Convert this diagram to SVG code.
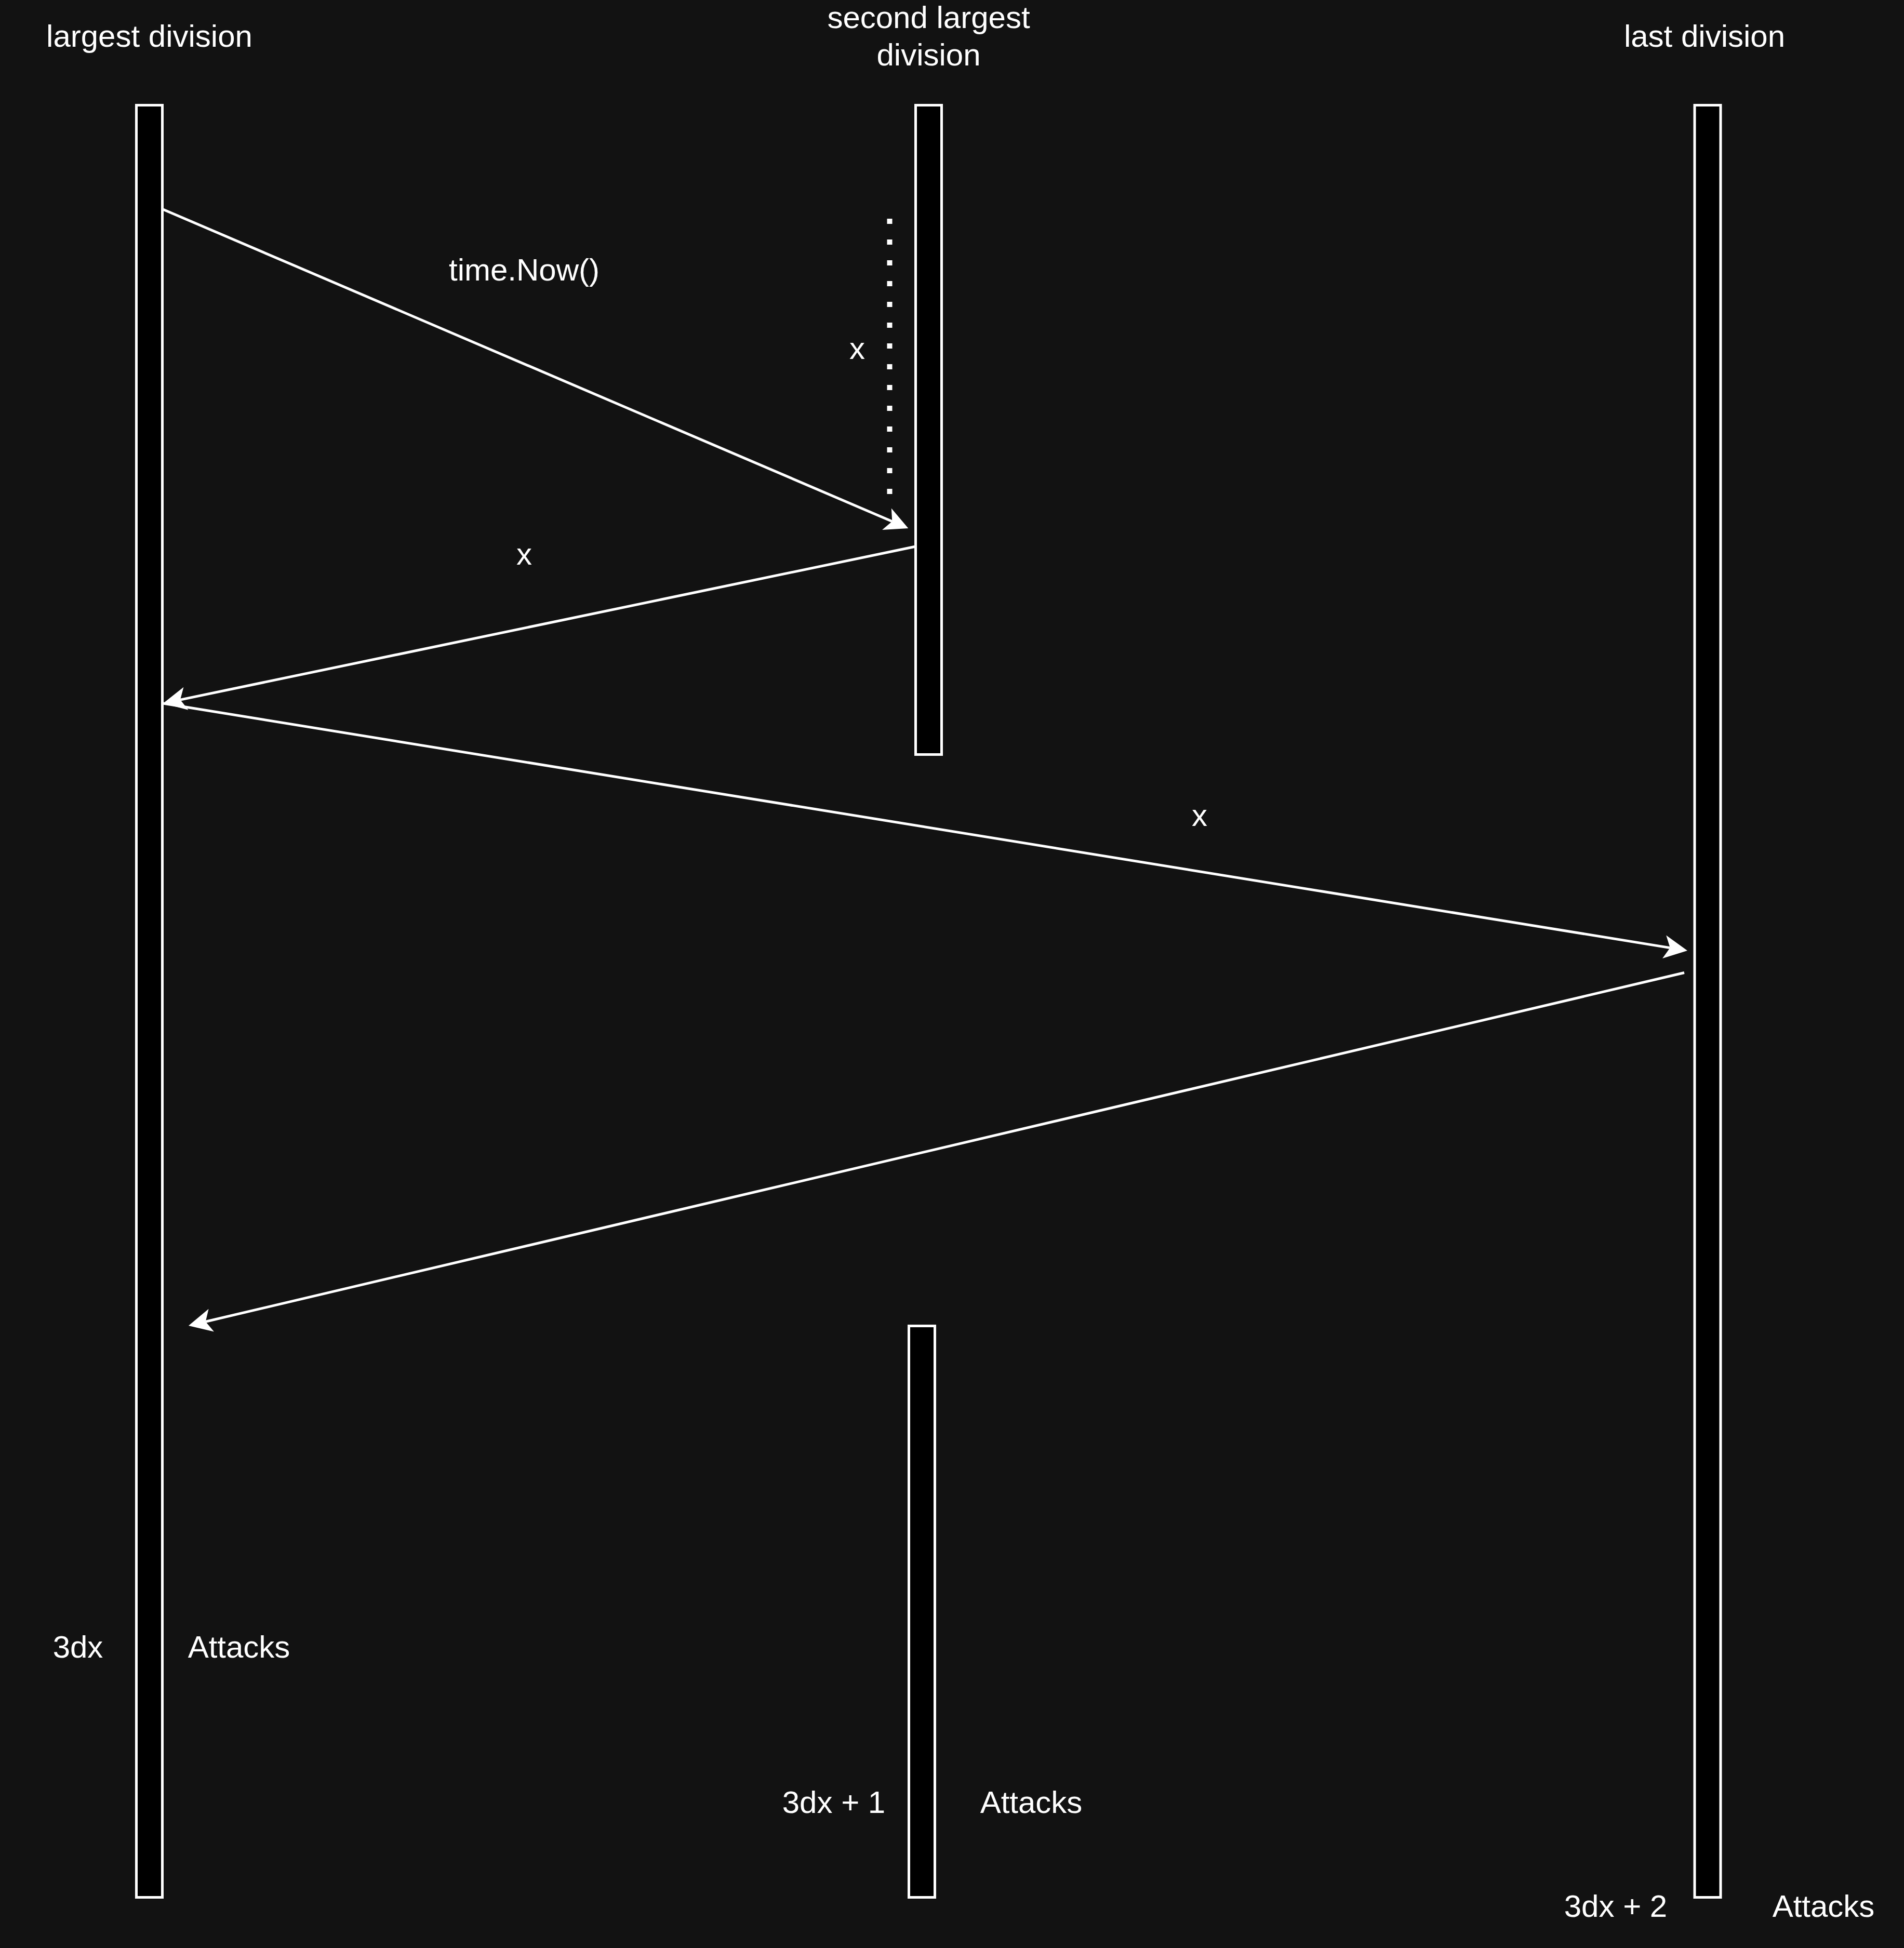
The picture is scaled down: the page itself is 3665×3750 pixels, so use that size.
<svg xmlns="http://www.w3.org/2000/svg" width="3665" height="3750" viewBox="0 0 3665 3750">
<style>
.bar{fill:#000000;stroke:#ffffff;stroke-width:5}
.lbl{font-family:"Liberation Sans",Arial,sans-serif;font-size:60px;fill:#ffffff;text-anchor:middle}
.conn{fill:none;stroke:#ffffff;stroke-width:5}
</style>
<defs>
<marker id="arr" markerUnits="userSpaceOnUse" markerWidth="60" markerHeight="60" refX="11.25" refY="25" orient="auto" overflow="visible">
<path d="M45 25 L0 2.5 L11.25 25 L0 47.5 Z" fill="#ffffff"/>
</marker>
</defs>
<rect x="0" y="0" width="3665" height="3750" fill="#121212"/>
<g id="largest-division">
<rect class="bar" x="262.5" y="202.5" width="50" height="3450"/>
<text class="lbl" x="287.5" y="90">largest division</text>
</g>
<g id="second-largest-division">
<rect class="bar" x="1762.5" y="202.5" width="50" height="1250"/>
<text class="lbl" x="1787.5" y="54">second largest</text>
<text class="lbl" x="1787.5" y="126">division</text>
</g>
<g id="last-division">
<rect class="bar" x="3262" y="202.5" width="50" height="3450"/>
<text class="lbl" x="3281" y="90">last division</text>
</g>
<g id="second-attack-bar">
<rect class="bar" x="1749.5" y="2552.5" width="50" height="1100"/>
</g>
<g id="connectors">
<path class="conn" d="M312.5 402.5 L1717.3 1003.7" marker-end="url(#arr)"/>
<path class="conn" d="M1762.5 1052 L347 1347.1" marker-end="url(#arr)"/>
<path class="conn" d="M314 1354 L3214.7 1824.6" marker-end="url(#arr)"/>
<path class="conn" d="M3242 1872.5 L395.8 2544.2" marker-end="url(#arr)"/>
<line x1="1712.5" y1="421" x2="1712.5" y2="952" stroke="#ffffff" stroke-width="10" stroke-dasharray="10 30"/>
</g>
<g id="labels">
<text class="lbl" x="1009" y="540">time.Now()</text>
<text class="lbl" x="1650" y="691">x</text>
<text class="lbl" x="1009" y="1087">x</text>
<text class="lbl" x="2309" y="1590">x</text>
<text class="lbl" x="150" y="3191">3dx</text>
<text class="lbl" x="460" y="3191">Attacks</text>
<text class="lbl" x="1605" y="3490">3dx + 1</text>
<text class="lbl" x="1985" y="3490">Attacks</text>
<text class="lbl" x="3110" y="3690">3dx + 2</text>
<text class="lbl" x="3510" y="3690">Attacks</text>
</g>
</svg>
